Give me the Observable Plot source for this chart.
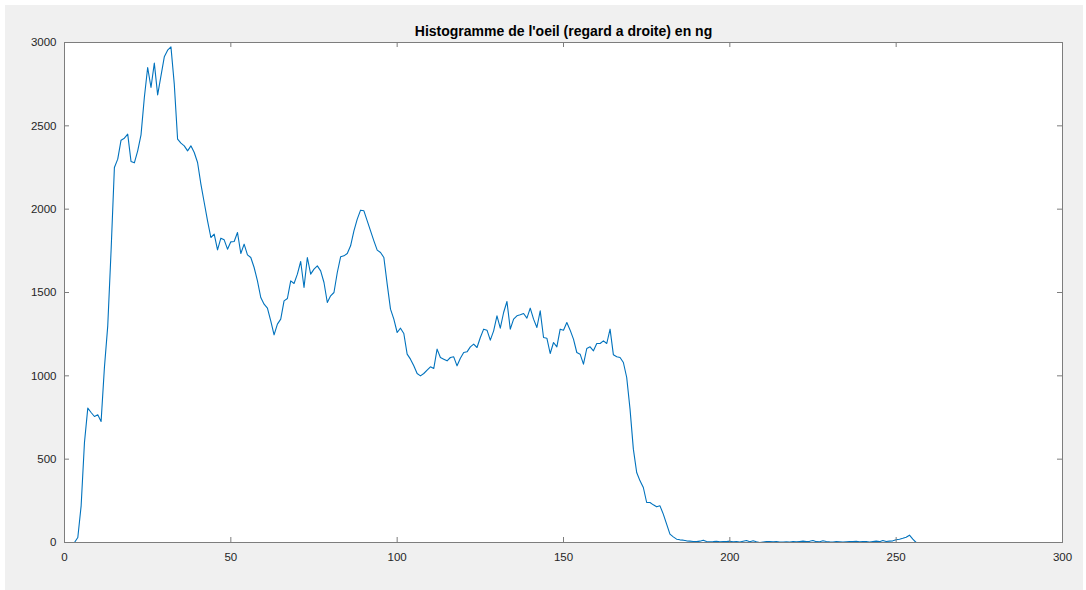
<!DOCTYPE html>
<html>
<head>
<meta charset="utf-8">
<script src="https://cdn.jsdelivr.net/npm/d3@7"></script>
<script src="https://cdn.jsdelivr.net/npm/@observablehq/plot@0.6"></script>
<style>
  html, body { margin: 0; padding: 0; background: #ffffff; }
  #wrap { position: relative; width: 1086px; height: 590px; overflow: hidden; }
  #panel { position: absolute; left: 5px; top: 5px; width: 1078px; height: 585px; background: #f0f0f0; }
  #chart { position: absolute; left: 0; top: 0; width: 1086px; height: 590px; }
</style>
</head>
<body>
<div id="wrap"><div id="panel"></div><div id="chart"></div></div>
<script>
const titleText = "Histogramme de l'oeil (regard a droite) en ng";
const xTicks = [0, 50, 100, 150, 200, 250, 300];
const yTicks = [0, 500, 1000, 1500, 2000, 2500, 3000];
const xDomain = [0, 300];
const yDomain = [0, 3000];

// histogram counts for grey levels 1..256
const counts = [
  0, 0, 0, 30, 220, 600, 806, 780, 756, 766,
  726, 1050, 1300, 1750, 2250, 2300, 2414, 2426, 2450, 2286,
  2278, 2350, 2446, 2670, 2850, 2730, 2876, 2686, 2800, 2914,
  2954, 2974, 2750, 2420, 2396, 2380, 2350, 2380, 2340, 2280,
  2150, 2040, 1930, 1830, 1850, 1756, 1826, 1816, 1760, 1804,
  1806, 1860, 1734, 1790, 1726, 1710, 1650, 1570, 1470, 1430,
  1406, 1330, 1246, 1310, 1340, 1450, 1464, 1570, 1554, 1610,
  1686, 1530, 1710, 1610, 1640, 1660, 1630, 1560, 1440, 1480,
  1500, 1620, 1714, 1720, 1734, 1780, 1870, 1940, 1994, 1990,
  1930, 1870, 1810, 1754, 1740, 1710, 1550, 1400, 1340, 1260,
  1286, 1254, 1130, 1100, 1060, 1014, 1000, 1014, 1034, 1054,
  1044, 1160, 1110, 1100, 1090, 1110, 1114, 1060, 1106, 1140,
  1144, 1174, 1190, 1170, 1230, 1280, 1274, 1214, 1270, 1360,
  1286, 1380, 1446, 1280, 1340, 1360, 1366, 1374, 1346, 1406,
  1340, 1290, 1390, 1230, 1226, 1134, 1200, 1174, 1280, 1274,
  1320, 1274, 1220, 1140, 1130, 1070, 1164, 1174, 1150, 1194,
  1194, 1210, 1194, 1280, 1126, 1114, 1110, 1080, 990, 800,
  560, 420, 370, 330, 240, 240, 226, 214, 220, 170,
  110, 50, 34, 20, 16, 14, 10, 8, 6, 5,
  8, 14, 6, 4, 5, 7, 4, 6, 5, 8,
  4, 6, 3, 8, 12, 5, 10, 4, 0, 3,
  5, 6, 4, 5, 3, 2, 4, 3, 5, 4,
  6, 8, 5, 7, 12, 5, 4, 10, 6, 4,
  3, 5, 4, 2, 4, 6, 5, 7, 4, 6,
  5, 3, 6, 8, 5, 12, 6, 8, 10, 16,
  20, 25, 32, 44, 20, 0
];
const levels = counts.map((_, i) => i + 1);

const data = levels.map((x, i) => ({x, y: counts[i]}));

const frameW = 998, frameH = 500, tick = 5;
const axisColor = "#7d7d7d";
const textColor = "#262626";

const chart = Plot.plot({
  width: 1086,
  height: 590,
  marginLeft: 64,
  marginRight: 24,
  marginTop: 42,
  marginBottom: 48,
  style: {
    background: "transparent",
    fontFamily: "'Liberation Sans', Arial, Helvetica, sans-serif",
    fontSize: "11.5px",
    color: textColor
  },
  x: {domain: xDomain, label: null},
  y: {domain: yDomain, label: null},
  marks: [
    Plot.frame({fill: "white", stroke: null}),
    Plot.line(data, {x: "x", y: "y", stroke: "#0072bd", strokeWidth: 1.1}),
    Plot.frame({stroke: axisColor, strokeWidth: 1}),
    // inward ticks
    Plot.tickX(xTicks, {x: d => d, insetTop: frameH - tick, stroke: axisColor}),
    Plot.tickX(xTicks, {x: d => d, insetBottom: frameH - tick, stroke: axisColor}),
    Plot.tickY(yTicks, {y: d => d, insetRight: frameW - tick, stroke: axisColor}),
    Plot.tickY(yTicks, {y: d => d, insetLeft: frameW - tick, stroke: axisColor}),
    Plot.axisX({ticks: xTicks, tickSize: 0, tickPadding: 10, tickFormat: d => String(d), fill: textColor, label: null}),
    Plot.axisY({ticks: yTicks, tickSize: 0, tickPadding: 8, tickFormat: d => String(d), fill: textColor, label: null}),
    Plot.text([titleText], {
      frameAnchor: "top",
      lineAnchor: "bottom",
      dy: -7,
      text: d => d,
      fontWeight: "bold",
      fontSize: 14,
      fill: "#000"
    })
  ]
});
document.getElementById("chart").appendChild(chart);
</script>
</body>
</html>
